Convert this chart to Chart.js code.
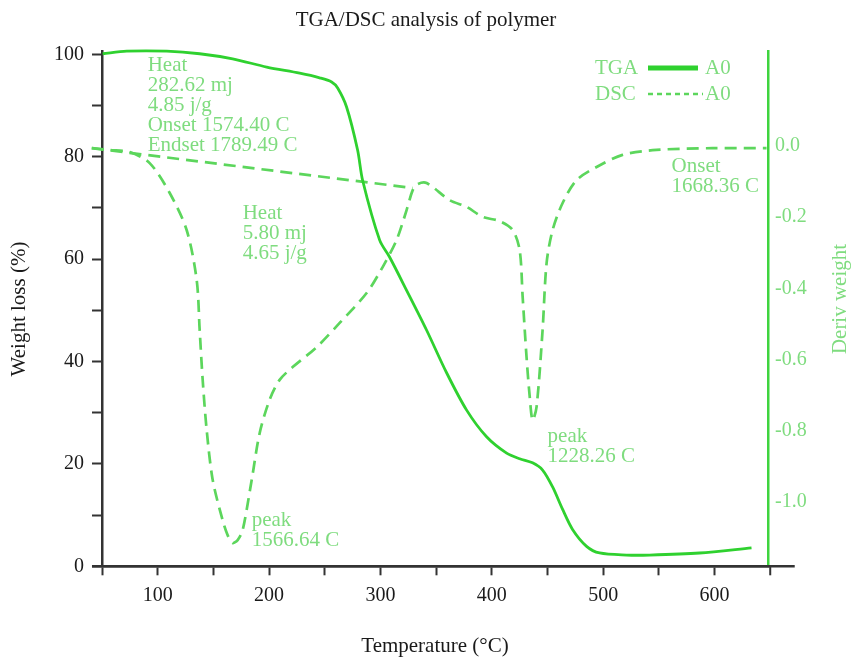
<!DOCTYPE html>
<html>
<head>
<meta charset="utf-8">
<script src="https://cdn.jsdelivr.net/npm/chart.js@4.4.0/dist/chart.umd.min.js"></script>
<style>
  html, body { margin: 0; padding: 0; background: #fff; }
</style>
</head>
<body>
<canvas id="tgaChart" width="852" height="657"></canvas>
<script>
// TGA curve (temperature in °C, weight in %)
const tgaTemp = [50.6, 72.2, 108.1, 137.7, 167.3, 197.9, 227.5, 245.4, 256.2, 261.6, 269.6, 279.5, 284.0,
  299.3, 308.2, 323.5, 341.5, 359.4, 377.4, 395.3, 413.3, 425.0, 436.6, 445.6, 454.6, 463.6, 472.5,
  485.1, 496.8, 521.0, 541.6, 586.5, 633.2];
const tgaWeight = [100.1, 100.6, 100.6, 100.1, 99.1, 97.5, 96.3, 95.4, 94.6, 93.4, 89.7, 81.3, 75.4,
  63.7, 60.4, 53.9, 46.1, 37.8, 30.5, 25.3, 22.1, 21.0, 20.2, 18.8, 15.5, 11.1, 7.2,
  3.9, 2.6, 2.2, 2.2, 2.6, 3.6];

// DSC curve (temperature in °C, deriv weight)
const dscTemp = [40.8, 56.9, 74.9, 92.8, 110.8, 126.0, 135.0, 137.7, 140.4, 144.0, 149.4, 158.3, 162.8,
  167.3, 171.8, 176.3, 184.4, 191.6, 200.5, 209.5, 221.2, 242.7, 263.4, 287.6, 302.0, 314.5, 323.5,
  329.0, 333.4, 341.5, 362.1, 377.4, 391.7, 407.0, 418.7, 425.0, 427.7, 431.2, 433.9, 436.6, 440.2,
  445.6, 449.2, 454.6, 463.6, 476.1, 494.1, 517.4, 547.9, 598.2, 646.7];
const dscDeriv = [-0.006, -0.011, -0.017, -0.048, -0.132, -0.236, -0.376, -0.517, -0.657, -0.798, -0.938, -1.051, -1.093,
  -1.115, -1.107, -1.079, -0.938, -0.806, -0.713, -0.657, -0.621, -0.565, -0.497, -0.413, -0.340, -0.264, -0.180,
  -0.124, -0.107, -0.104, -0.152, -0.171, -0.199, -0.211, -0.236, -0.292, -0.424, -0.593, -0.699, -0.770, -0.733,
  -0.517, -0.329, -0.236, -0.160, -0.096, -0.059, -0.025, -0.011, -0.006, -0.006];

// DSC integration baseline
const baseTemp = [40.8, 329.0];
const baseDeriv = [-0.006, -0.118];

// tick values
const tempTicks = [50, 100, 150, 200, 250, 300, 350, 400, 450, 500, 550, 600];
const weightTicks = [0, 10, 20, 30, 40, 50, 60, 70, 80, 90, 100];
const derivTicks = [-1.0, -0.8, -0.6, -0.4, -0.2, 0.0];

// text notes on the plot (anchored in temperature / weight units)
const notes = [
  { x: 91, y: 97.9, lines: ['Heat', '282.62 mj', '4.85 j/g', 'Onset 1574.40 C', 'Endset 1789.49 C'] },
  { x: 176.3, y: 69.0, lines: ['Heat', '5.80 mj', '4.65 j/g'] },
  { x: 184.4, y: 8.9, lines: ['peak', '1566.64 C'] },
  { x: 450.1, y: 25.3, lines: ['peak', '1228.26 C'] },
  { x: 561.4, y: 78.0, lines: ['Onset', '1668.36 C'] }
];
const sampleName = 'A0';

const serif = "'Liberation Serif', 'Times New Roman', serif";
const ink = '#1a1a1a';
const axisColor = '#333';
const tgaColor = '#2fd12f';
const dscColor = '#5cd65c';
const noteColor = '#7fdc7f';

const toPoints = (xs, ys) => xs.map((x, i) => ({ x: x, y: ys[i] }));

// extra drawing: axis extension, notes, legend, right title
const decorPlugin = {
  id: 'decor',
  afterDraw(chart) {
    const ctx = chart.ctx;
    const xs = chart.scales.x;
    const ys = chart.scales.y;
    const area = chart.chartArea;
    ctx.save();

    // x axis runs a bit past both vertical axes
    ctx.strokeStyle = axisColor;
    ctx.lineWidth = 2.5;
    ctx.beginPath();
    ctx.moveTo(xs.getPixelForValue(41), area.bottom);
    ctx.lineTo(xs.getPixelForValue(672), area.bottom);
    ctx.stroke();
    ctx.lineWidth = 2;
    ctx.beginPath();
    ctx.moveTo(xs.getPixelForValue(650), area.bottom);
    ctx.lineTo(xs.getPixelForValue(650), area.bottom + 9);
    ctx.stroke();

    // notes
    ctx.fillStyle = noteColor;
    ctx.font = '21px ' + serif;
    ctx.textAlign = 'left';
    ctx.textBaseline = 'middle';
    notes.forEach(n => {
      const px = xs.getPixelForValue(n.x);
      const py = ys.getPixelForValue(n.y);
      n.lines.forEach((t, i) => ctx.fillText(t, px, py + i * 20));
    });

    // legend
    const ds = chart.data.datasets;
    [0, 1].forEach(i => {
      const y = 68 + i * 26;
      ctx.fillStyle = noteColor;
      ctx.fillText(ds[i].label, 595, y);
      ctx.fillText(sampleName, 705, y);
      ctx.strokeStyle = ds[i].borderColor;
      ctx.lineWidth = i === 0 ? 5 : 2.5;
      ctx.setLineDash(i === 0 ? [] : [5, 4]);
      ctx.beginPath();
      ctx.moveTo(648, y);
      ctx.lineTo(i === 0 ? 698 : 703, y);
      ctx.stroke();
    });
    ctx.setLineDash([]);

    // right axis title, reading upwards
    ctx.translate(840, 299);
    ctx.rotate(-Math.PI / 2);
    ctx.textAlign = 'center';
    ctx.fillStyle = noteColor;
    ctx.fillText('Deriv weight', 0, 0);
    ctx.restore();
  }
};

const ctx = document.getElementById('tgaChart').getContext('2d');
new Chart(ctx, {
  type: 'line',
  data: {
    datasets: [
      {
        label: 'TGA',
        data: toPoints(tgaTemp, tgaWeight),
        yAxisID: 'y',
        borderColor: tgaColor,
        borderWidth: 2.8,
        pointRadius: 0,
        tension: 0.3,
        clip: false
      },
      {
        label: 'DSC',
        data: toPoints(dscTemp, dscDeriv),
        yAxisID: 'y1',
        borderColor: dscColor,
        borderWidth: 2.7,
        borderDash: [12, 7],
        pointRadius: 0,
        tension: 0.3,
        clip: false
      },
      {
        label: 'baseline',
        data: toPoints(baseTemp, baseDeriv),
        yAxisID: 'y1',
        borderColor: dscColor,
        borderWidth: 2.7,
        borderDash: [12, 7],
        pointRadius: 0,
        clip: false
      }
    ]
  },
  options: {
    responsive: false,
    animation: false,
    layout: { padding: 0 },
    plugins: {
      legend: { display: false },
      tooltip: { enabled: false },
      title: {
        display: true,
        text: 'TGA/DSC analysis of polymer',
        color: ink,
        font: { family: serif, size: 21, weight: 'normal', lineHeight: 1.2 },
        padding: { top: 7.4, bottom: 19.1 }
      }
    },
    scales: {
      x: {
        type: 'linear',
        min: 50,
        max: 648,
        afterBuildTicks: s => { s.ticks = tempTicks.map(v => ({ value: v })); },
        afterFit: s => { s.height = 90.7; },
        ticks: {
          autoSkip: false,
          maxRotation: 0,
          padding: 8,
          color: ink,
          font: { family: serif, size: 20 },
          callback: v => (v % 100 === 0 ? v : '')
        },
        grid: { drawOnChartArea: false, tickLength: 9, tickColor: axisColor, tickWidth: 2 },
        border: { color: axisColor, width: 2.5 },
        title: {
          display: true,
          text: 'Temperature (°C)',
          color: ink,
          font: { family: serif, size: 21, lineHeight: 1 },
          padding: { top: 0, bottom: 0 }
        }
      },
      y: {
        position: 'left',
        min: 0,
        max: 100.5,
        afterBuildTicks: s => { s.ticks = weightTicks.map(v => ({ value: v })); },
        afterFit: s => { s.width = 102; },
        ticks: {
          padding: 8,
          color: ink,
          font: { family: serif, size: 20 },
          callback: v => (v % 20 === 0 ? v : '')
        },
        grid: { drawOnChartArea: false, tickLength: 10, tickColor: axisColor, tickWidth: 2 },
        border: { color: axisColor, width: 2.5 },
        title: {
          display: true,
          text: 'Weight loss (%)',
          color: ink,
          font: { family: serif, size: 21, lineHeight: 1.2 },
          padding: { top: 7, bottom: 0 }
        }
      },
      y1: {
        position: 'right',
        min: -1.1806,
        max: 0.2649,
        afterBuildTicks: s => { s.ticks = derivTicks.map(v => ({ value: v })); },
        afterFit: s => { s.width = 84; },
        ticks: {
          padding: 7,
          color: noteColor,
          font: { family: serif, size: 20 },
          callback: v => v.toFixed(1)
        },
        grid: { drawOnChartArea: false, drawTicks: false },
        border: { color: '#3fd43f', width: 2.5 }
      }
    }
  },
  plugins: [decorPlugin]
});
</script>
</body>
</html>
